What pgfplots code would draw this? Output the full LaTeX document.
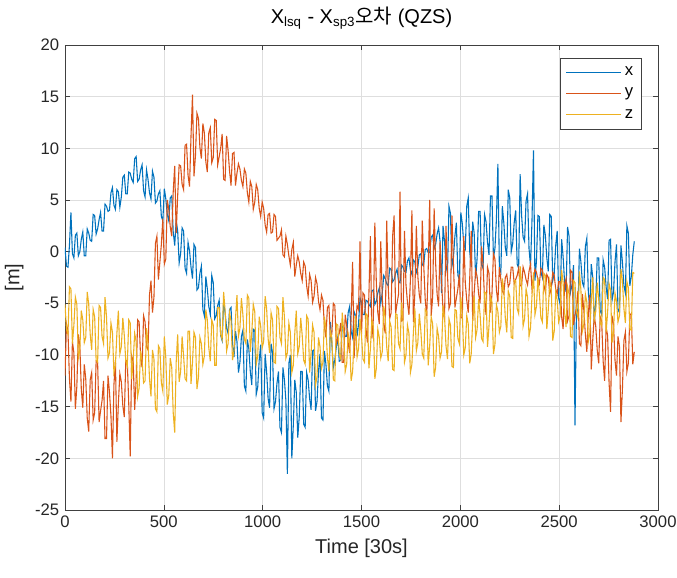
\documentclass[border=0pt]{standalone}
\usepackage{fontspec}
\setmainfont{Liberation Sans}
\newfontfamily\kr{Noto Sans CJK KR}
\usepackage{pgfplots}
\usepackage{pgfplotstable}
\pgfplotsset{compat=1.18}
\definecolor{mx}{rgb}{0,0.447,0.741}
\definecolor{my}{rgb}{0.85,0.325,0.098}
\definecolor{mz}{rgb}{0.929,0.694,0.125}
\pgfplotstableread{
t x y z
0 0.4 -12.0 -5.1
7.5 -1.4 -7.0 -7.5
15 -1.5 -7.7 -8.0
22.5 0.6 -12.3 -3.4
30 3.8 -14.5 -3.6
37.5 -0.2 -8.7 -8.9
45 -0.6 -9.8 -7.1
52.5 1.6 -15.2 -4.4
60 1.8 -13.0 -5.1
67.5 -0.4 -8.0 -10.3
75 0.0 -9.1 -9.5
82.5 1.2 -13.3 -5.7
90 1.9 -15.1 -6.6
97.5 -0.4 -10.9 -8.8
105 -0.4 -12.3 -8.3
112.5 2.2 -16.1 -3.9
120 1.8 -17.4 -5.1
127.5 1.1 -12.4 -8.0
135 1.0 -11.7 -9.5
142.5 3.6 -16.3 -5.6
150 3.5 -15.6 -6.3
157.5 1.7 -10.6 -10.5
165 2.2 -10.7 -10.7
172.5 3.1 -16.5 -5.2
180 3.8 -15.4 -5.4
187.5 2.0 -14.4 -8.2
195 2.0 -12.5 -8.9
202.5 4.6 -18.1 -4.4
210 4.4 -18.1 -6.3
217.5 3.9 -12.0 -10.3
225 4.0 -13.6 -9.8
232.5 5.7 -15.9 -6.9
240 6.2 -20.0 -7.8
247.5 4.5 -12.9 -11.7
255 4.1 -10.5 -11.0
262.5 6.0 -18.4 -7.9
270 5.8 -14.7 -5.7
277.5 4.3 -11.8 -9.9
285 5.3 -12.6 -9.2
292.5 7.2 -14.9 -6.4
300 7.4 -16.0 -8.1
307.5 5.6 -10.5 -10.6
315 5.6 -10.6 -11.1
322.5 7.7 -14.7 -6.6
330 7.6 -19.8 -6.9
337.5 7.0 -10.1 -12.3
345 6.7 -10.6 -10.5
352.5 9.0 -15.3 -7.9
360 9.2 -12.4 -8.7
367.5 6.8 -6.6 -14.0
375 7.0 -6.8 -13.2
382.5 7.9 -10.2 -9.6
390 8.4 -11.2 -10.5
397.5 5.9 -6.2 -12.7
405 5.3 -6.8 -12.5
412.5 7.9 -9.2 -7.4
420 7.0 -9.5 -8.9
427.5 5.7 -4.2 -12.3
435 5.1 -2.8 -14.0
442.5 7.8 -5.9 -9.5
450 7.2 -4.4 -10.4
457.5 4.7 0.8 -15.2
465 4.9 1.5 -15.5
472.5 5.6 -2.7 -9.1
480 5.9 -1.0 -9.4
487.5 3.4 0.7 -12.7
495 3.0 3.2 -13.5
502.5 6.1 -1.2 -8.2
510 5.1 -0.7 -10.3
517.5 3.6 5.0 -14.8
525 3.0 4.1 -13.9
532.5 5.2 2.4 -10.3
540 5.4 1.5 -11.2
547.5 1.9 5.8 -15.6
555 0.6 8.3 -17.5
562.5 3.0 1.8 -10.7
570 2.0 5.4 -8.0
577.5 -1.1 8.4 -12.6
585 -0.2 8.3 -11.6
592.5 2.3 6.5 -8.2
600 2.0 6.0 -10.1
607.5 -1.6 10.3 -12.3
615 -2.1 10.4 -12.5
622.5 0.9 7.4 -7.7
630 0.1 6.3 -7.7
637.5 -1.5 11.2 -12.8
645 -2.6 15.2 -10.7
652.5 0.7 7.3 -7.8
660 0.4 9.3 -8.3
667.5 -3.7 13.4 -13.3
675 -3.5 12.9 -12.2
682.5 -2.1 10.1 -8.3
690 -1.4 9.0 -8.9
697.5 -5.6 12.4 -10.9
705 -6.2 11.5 -10.1
712.5 -2.4 8.7 -5.6
720 -3.6 7.7 -6.6
727.5 -5.3 11.5 -9.3
735 -6.1 12.0 -10.6
742.5 -2.3 8.6 -6.6
750 -3.0 9.1 -7.1
757.5 -6.5 12.8 -11.0
765 -6.2 12.7 -11.0
772.5 -5.2 8.4 -5.4
780 -4.7 9.2 -5.4
787.5 -8.1 10.0 -8.0
795 -8.6 11.4 -8.5
802.5 -4.9 7.0 -3.9
810 -5.9 6.9 -5.7
817.5 -7.4 11.2 -9.6
825 -7.9 9.8 -8.9
832.5 -5.6 7.8 -5.9
840 -5.4 6.4 -6.7
847.5 -8.9 9.5 -10.5
855 -10.2 9.6 -9.6
862.5 -7.7 6.4 -6.5
870 -8.7 7.6 -4.2
877.5 -11.7 8.5 -8.2
885 -10.7 8.0 -7.4
892.5 -8.2 6.9 -4.5
900 -7.6 6.3 -6.1
907.5 -13.0 8.0 -8.5
915 -13.5 7.6 -8.9
922.5 -8.5 5.7 -4.2
930 -9.4 4.8 -4.5
937.5 -11.6 6.8 -9.7
945 -12.9 6.3 -7.8
952.5 -7.5 4.1 -5.1
960 -7.6 4.8 -5.8
967.5 -13.8 6.5 -10.9
975 -13.1 6.0 -10.1
982.5 -10.5 4.2 -6.3
990 -9.0 3.4 -7.2
997.5 -15.6 4.8 -9.3
1005 -16.1 4.2 -8.7
1012.5 -9.9 2.6 -4.3
1020 -11.6 1.9 -5.5
1027.5 -14.2 3.6 -8.4
1035 -15.1 3.7 -9.8
1042.5 -8.9 1.8 -5.9
1050 -9.8 1.9 -6.6
1057.5 -15.2 3.6 -10.7
1065 -14.5 3.4 -10.8
1072.5 -12.7 1.1 -5.3
1080 -11.6 1.3 -5.5
1087.5 -17.0 1.5 -8.3
1095 -17.5 2.1 -8.9
1102.5 -11.2 -0.3 -4.4
1110 -12.4 -0.5 -6.3
1117.5 -14.4 1.5 -10.3
1125 -21.5 0.7 -9.8
1132.5 -10.8 -0.4 -6.9
1140 -10.0 -1.3 -7.8
1147.5 -20.0 0.2 -11.7
1155 -16.8 0.9 -11.0
1162.5 -12.4 -2.4 -7.9
1170 -13.6 -1.3 -5.7
1177.5 -18.0 -0.4 -9.9
1185 -16.0 -1.0 -9.2
1192.5 -11.6 -2.1 -6.4
1200 -11.6 -2.8 -8.1
1207.5 -16.7 -1.0 -10.5
1215 -17.0 -1.4 -10.9
1222.5 -11.7 -3.3 -6.2
1230 -12.4 -4.3 -6.5
1237.5 -14.2 -2.2 -11.7
1245 -15.3 -2.8 -9.8
1252.5 -9.6 -4.9 -7.1
1260 -9.5 -4.3 -7.8
1267.5 -15.4 -2.5 -12.9
1275 -14.5 -3.1 -12.1
1282.5 -11.6 -4.8 -8.3
1290 -9.9 -5.6 -9.2
1297.5 -16.1 -4.2 -11.3
1305 -16.3 -4.7 -10.7
1312.5 -9.6 -7.3 -6.3
1320 -10.9 -8.3 -7.4
1327.5 -13.0 -5.4 -10.2
1335 -13.5 -5.2 -11.6
1342.5 -6.8 -8.2 -7.7
1350 -8.9 -8.0 -8.3
1357.5 -11.2 -5.0 -12.4
1365 -10.5 -5.2 -12.5
1372.5 -9.2 -8.9 -7.0
1380 -8.3 -8.4 -7.1
1387.5 -10.6 -7.9 -9.9
1395 -10.5 -6.9 -10.4
1402.5 -7.1 -10.7 -5.9
1410 -7.4 -10.7 -7.7
1417.5 -8.2 -6.1 -11.6
1425 -8.2 -7.1 -10.9
1432.5 -5.9 -8.8 -7.9
1440 -5.3 -9.8 -8.7
1447.5 -7.7 -6.4 -12.5
1455 -8.3 -1.0 -11.6
1462.5 -5.8 -10.3 -8.5
1470 -6.2 -7.4 -6.2
1477.5 -8.2 -5.2 -10.2
1485 -7.0 -5.6 -9.4
1492.5 -4.5 1.0 -6.5
1500 -4.9 -8.0 -8.1
1507.5 -6.1 -4.0 -10.4
1515 -6.1 -4.2 -10.7
1522.5 -4.7 -7.4 -6.0
1530 -4.8 -8.8 -6.2
1537.5 -5.1 -4.1 -11.3
1545 -5.3 1.5 -9.4
1552.5 -3.8 -8.4 -6.6
1560 -3.7 -6.5 -7.2
1567.5 -5.1 2.8 -12.3
1575 -4.8 -3.0 -11.3
1582.5 -4.0 -5.9 -7.5
1590 -3.5 -7.0 -8.3
1597.5 -5.0 1.0 -10.3
1605 -4.0 -4.4 -9.7
1612.5 -2.3 -7.0 -5.3
1620 -2.6 -7.9 -6.4
1627.5 -3.1 3.0 -9.2
1635 -3.3 -3.3 -10.6
1642.5 -1.6 -6.5 -6.7
1650 -1.7 -5.9 -7.3
1657.5 -2.9 1.5 -11.4
1665 -2.7 3.5 -11.5
1672.5 -2.1 -6.0 -6.0
1680 -1.7 -5.0 -6.1
1687.5 -2.9 -4.1 -8.9
1695 -3.0 5.8 -9.4
1702.5 -1.3 -6.7 -4.9
1710 -1.5 -6.6 -6.7
1717.5 -1.9 2.0 -10.7
1725 -2.0 -3.2 -10.0
1732.5 -0.9 -4.9 -7.1
1740 -0.6 -6.1 -7.9
1747.5 -1.8 -2.7 -11.7
1755 -2.2 4.0 -10.9
1762.5 -0.8 -6.8 -7.8
1770 -1.0 -4.0 -5.5
1777.5 -2.0 2.5 -9.6
1785 -1.5 -2.4 -8.8
1792.5 -0.3 -4.2 -6.0
1800 -0.2 -5.0 -7.6
1807.5 -1.3 3.0 -9.9
1815 -1.2 -1.4 -10.3
1822.5 0.2 -4.7 -5.6
1830 0.3 -6.2 -5.8
1837.5 -0.1 -1.7 -11.0
1845 -0.1 5.0 -9.1
1852.5 1.4 -6.2 -6.3
1860 1.6 -4.4 -7.0
1867.5 0.3 4.2 -12.1
1875 0.7 -1.1 -11.2
1882.5 1.7 -4.1 -7.4
1890 2.3 -5.3 -8.2
1897.5 1.0 1.0 -10.3
1905 -4.0 -2.9 -9.7
1912.5 2.5 -5.7 -5.2
1920 1.0 -6.6 -6.3
1927.5 -1.3 2.5 -9.1
1935 -2.1 -2.2 -10.4
1942.5 4.4 -5.5 -6.5
1950 3.7 -5.0 -7.1
1957.5 -1.4 3.5 -11.1
1965 -0.6 -1.1 -11.2
1972.5 1.5 -5.4 -5.6
1980 2.8 -4.5 -5.7
1987.5 -2.3 -3.6 -8.4
1995 -2.7 -2.2 -8.9
2002.5 3.8 -6.4 -4.4
2010 2.7 -6.4 -6.1
2017.5 0.7 1.5 -10.0
2025 0.3 -3.0 -9.3
2032.5 4.4 -4.7 -6.2
2040 5.2 -5.9 -7.0
2047.5 0.0 -2.6 -10.8
2055 -1.5 2.0 -9.9
2062.5 2.9 -6.7 -6.7
2070 1.8 -4.0 -4.3
2077.5 -2.6 -1.8 -8.3
2085 -0.6 -2.4 -7.5
2092.5 3.9 -4.1 -4.6
2100 3.9 -5.0 -6.1
2107.5 -1.3 0.5 -8.4
2115 -1.6 -1.3 -8.7
2122.5 3.6 -4.6 -3.9
2130 2.9 -6.1 -4.0
2137.5 0.9 -1.5 -9.2
2145 -0.3 -2.1 -7.2
2152.5 5.4 -5.9 -4.3
2160 5.4 -4.1 -4.9
2167.5 -0.6 -0.2 -9.9
2175 0.3 -0.7 -9.0
2182.5 3.1 -3.7 -5.1
2190 8.5 -4.9 -5.8
2197.5 -1.6 -1.5 -7.8
2205 -2.0 -2.7 -7.2
2212.5 4.4 -3.8 -2.6
2220 2.8 -4.1 -3.7
2227.5 0.4 -2.5 -6.4
2235 -0.4 -2.2 -7.8
2242.5 6.0 -3.4 -3.8
2250 5.2 -3.1 -4.3
2257.5 0.0 -1.5 -8.3
2265 0.8 -1.5 -8.4
2272.5 2.8 -3.1 -2.8
2280 4.0 -2.7 -2.8
2287.5 -1.2 -2.3 -5.5
2295 -1.6 -1.6 -6.0
2302.5 7.5 -3.3 -1.4
2310 3.5 -3.3 -3.2
2317.5 1.4 -1.5 -7.2
2325 1.0 -2.0 -6.5
2332.5 4.9 -2.7 -3.6
2340 5.6 -3.2 -4.4
2347.5 0.3 -1.9 -8.2
2355 -1.4 -1.2 -7.4
2362.5 3.0 -3.6 -4.3
2370 9.8 -2.6 -2.0
2377.5 -2.8 -1.7 -6.1
2385 -0.9 -2.0 -5.3
2392.5 3.5 -2.7 -2.5
2400 3.4 -3.1 -4.1
2407.5 -2.0 -1.6 -6.4
2415 -2.5 -1.8 -6.8
2422.5 2.6 -3.2 -2.1
2430 1.6 -3.9 -2.3
2437.5 -0.6 -2.2 -7.5
2445 -1.9 -2.5 -5.6
2452.5 3.6 -4.1 -2.8
2460 3.4 -3.5 -3.5
2467.5 -2.8 -2.0 -8.6
2475 -2.1 -2.3 -7.7
2482.5 0.6 -3.6 -3.9
2490 2.0 -4.1 -4.7
2497.5 -4.5 -2.9 -6.8
2505 -5.1 -2.9 -6.2
2512.5 1.2 -6.3 -1.8
2520 -0.5 -7.5 -3.0
2527.5 -3.0 -3.1 -5.9
2535 -3.9 -2.6 -7.3
2542.5 2.4 -6.7 -3.4
2550 1.5 -6.2 -4.1
2557.5 -3.9 -1.8 -8.2
2565 -3.2 -2.0 -8.3
2572.5 -1.3 -7.1 -2.8
2580 -16.8 -6.2 -3.0
2587.5 -5.5 -5.3 -5.8
2595 -6.0 -3.8 -6.4
2602.5 0.3 -8.9 -1.9
2610 -1.0 -9.1 -3.7
2617.5 -3.0 -4.1 -7.7
2625 -3.4 -5.7 -7.0
2632.5 0.5 -8.0 -4.1
2640 1.3 -9.7 -4.9
2647.5 -3.9 -6.0 -8.7
2655 -5.6 -4.2 -7.9
2662.5 -1.2 -11.4 -4.8
2670 -2.5 -8.5 -2.5
2677.5 -6.9 -6.2 -6.6
2685 -4.9 -7.2 -5.8
2692.5 -0.6 -9.5 -3.0
2700 -0.6 -10.8 -4.6
2707.5 -5.7 -6.3 -6.9
2715 -6.1 -6.7 -7.2
2722.5 -0.8 -10.6 -2.5
2730 -1.5 -12.5 -2.7
2737.5 -3.4 -7.3 -7.8
2745 -4.6 -8.1 -5.9
2752.5 1.1 -12.7 -3.1
2760 1.2 -15.5 -3.7
2767.5 -4.7 -6.2 -8.8
2775 -3.9 -7.0 -7.8
2782.5 -1.0 -10.5 -4.0
2790 0.7 -12.0 -4.8
2797.5 -5.6 -8.2 -6.8
2805 -5.9 -9.2 -6.2
2812.5 0.6 -16.5 -1.7
2820 -1.0 -13.3 -2.8
2827.5 -3.3 -8.6 -5.5
2835 -4.0 -7.8 -6.9
2842.5 2.5 -11.6 -2.9
2850 1.8 -10.8 -3.5
2857.5 -3.3 -6.1 -7.5
2865 -2.4 -6.0 -7.6
2872.5 -0.3 -10.9 -2.0
2880 1.0 -9.7 -2.1
}\data
\begin{document}
\begin{tikzpicture}
\useasboundingbox (-39pt,-40.2pt) rectangle (367.2pt,306pt);
\begin{axis}[
  at={(0,0)}, anchor=south west,
  scale only axis, width=355.8pt, height=279pt,
  xmin=0, xmax=3000, ymin=-25, ymax=20,
  xtick={0,500,...,3000}, ytick={-25,-20,...,20},
  scaled x ticks=false,
  /pgf/number format/1000 sep={},
  /pgf/number format/assume math mode=true,
  tick align=inside, major tick length=3pt,
  tick style={black!75, line width=0.4pt},
  axis line style={black!75, line width=0.5pt},
  grid=major, major grid style={color=black!13, line width=0.4pt},
  ticklabel style={font=\fontsize{10}{12}\selectfont, text=black!85},
  label style={font=\fontsize{12}{14}\selectfont, text=black!85},
  xlabel={Time [30s]}, ylabel={[m]},
  title={X\textsubscript{lsq} - X\textsubscript{sp3}{\kr 오차} (QZS)},
  title style={font=\fontsize{12}{14}\selectfont},
  legend style={at={(0.973,0.972)}, anchor=north east, draw=black!75,
    font=\fontsize{10}{12}\selectfont, legend cell align=left,
    row sep=2pt, inner xsep=3pt, inner ysep=3pt},
  legend image code/.code={\draw[#1] (0pt,0pt) -- (33pt,0pt);},
]
\addplot[mx, line width=0.65pt] table[x=t, y=x] {\data};
\addplot[my, line width=0.65pt] table[x=t, y=y] {\data};
\addplot[mz, line width=0.65pt] table[x=t, y=z] {\data};
\legend{x, y, z}
\end{axis}
\end{tikzpicture}
\end{document}
